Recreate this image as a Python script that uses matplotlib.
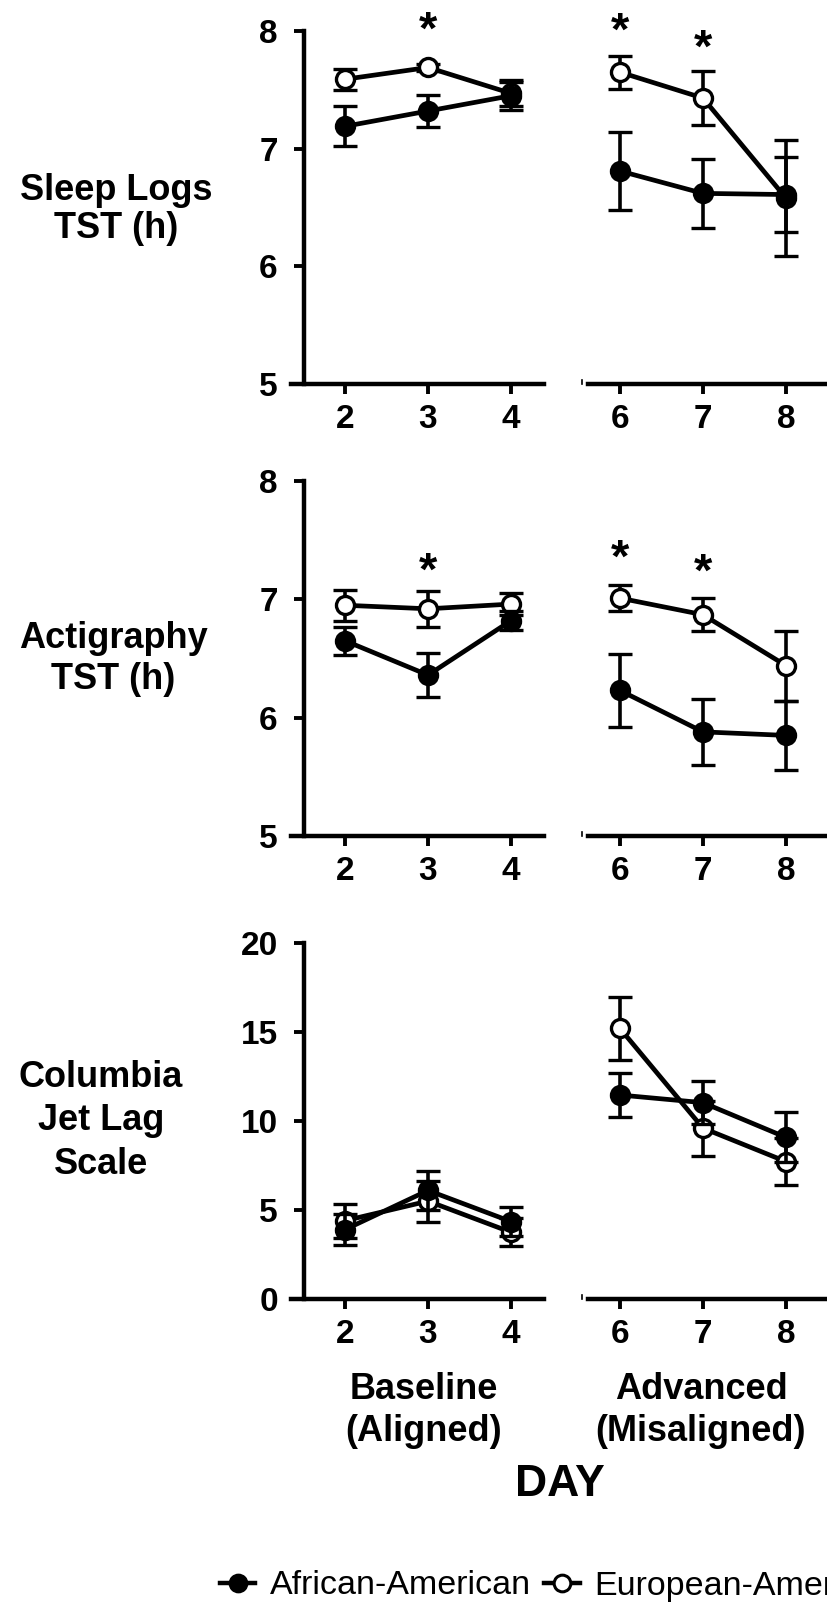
import matplotlib
matplotlib.use('Agg')
import matplotlib.pyplot as plt
from matplotlib.lines import Line2D
from matplotlib.transforms import offset_copy

plt.rcParams['font.family'] = ['Liberation Sans', 'DejaVu Sans']

# ---------------- data ----------------
days_base = [2, 3, 4]
days_adv = [6, 7, 8]

# Sleep logs TST (h)
sl_aa_base = [7.19, 7.32, 7.45]
sl_aa_base_err = [0.17, 0.135, 0.12]
sl_ea_base = [7.59, 7.69, 7.47]
sl_ea_base_err = [0.09, 0.03, 0.11]
sl_aa_adv = [6.81, 6.62, 6.61]
sl_aa_adv_err = [0.335, 0.29, 0.32]
sl_ea_adv = [7.65, 7.43, 6.58]
sl_ea_adv_err = [0.14, 0.23, 0.49]

# Actigraphy TST (h)
ac_aa_base = [6.65, 6.36, 6.82]
ac_aa_base_err = [0.12, 0.185, 0.08]
ac_ea_base = [6.95, 6.92, 6.96]
ac_ea_base_err = [0.13, 0.15, 0.09]
ac_aa_adv = [6.23, 5.88, 5.85]
ac_aa_adv_err = [0.31, 0.28, 0.29]
ac_ea_adv = [7.01, 6.87, 6.44]
ac_ea_adv_err = [0.11, 0.14, 0.295]

# Columbia Jet Lag Scale
cj_aa_base = [3.9, 6.1, 4.35]
cj_aa_base_err = [0.85, 1.1, 0.8]
cj_ea_base = [4.4, 5.5, 3.75]
cj_ea_base_err = [0.95, 1.15, 0.8]
cj_aa_adv = [11.46, 11.03, 9.08]
cj_aa_adv_err = [1.25, 1.2, 1.4]
cj_ea_adv = [15.2, 9.6, 7.72]
cj_ea_adv_err = [1.75, 1.55, 1.3]

# significance asterisks: (day, y of glyph centre)
sl_stars_base = [(3, 8.12)]
sl_stars_adv = [(6, 8.11), (7, 7.96)]
ac_stars_base = [(3, 7.35)]
ac_stars_adv = [(6, 7.46), (7, 7.34)]

row_labels = [["Sleep Logs", "TST (h)"],
              ["Actigraphy", "TST (h)"],
              ["Columbia", "Jet Lag", "Scale"]]
group_labels = [["Baseline", "(Aligned)"], ["Advanced", "(Misaligned)"]]
legend_labels = ["African-American", "European-American"]
x_label = "DAY"

# ---------------- layout ----------------
W, H = 828, 1604
fig = plt.figure(figsize=(W / 100, H / 100), dpi=100)


def rect(x0, x1, ytop, ybot):
    return [x0 / W, 1 - ybot / H, (x1 - x0) / W, (ybot - ytop) / H]


def fx(px):
    return px / W


def fy(py):
    return 1 - py / H


rows = [
    dict(top=31, bot=384, ylim=(5, 8), yticks=[5, 6, 7, 8],
         base=(sl_aa_base, sl_aa_base_err, sl_ea_base, sl_ea_base_err),
         adv=(sl_aa_adv, sl_aa_adv_err, sl_ea_adv, sl_ea_adv_err),
         stars=(sl_stars_base, sl_stars_adv),
         lab_x=116, lab_base=[200, 238]),
    dict(top=481, bot=836, ylim=(5, 8), yticks=[5, 6, 7, 8],
         base=(ac_aa_base, ac_aa_base_err, ac_ea_base, ac_ea_base_err),
         adv=(ac_aa_adv, ac_aa_adv_err, ac_ea_adv, ac_ea_adv_err),
         stars=(ac_stars_base, ac_stars_adv),
         lab_x=113, lab_base=[648, 689]),
    dict(top=943, bot=1299, ylim=(0, 20), yticks=[0, 5, 10, 15, 20],
         base=(cj_aa_base, cj_aa_base_err, cj_ea_base, cj_ea_base_err),
         adv=(cj_aa_adv, cj_aa_adv_err, cj_ea_adv, cj_ea_adv_err),
         stars=([], []),
         lab_x=101, lab_base=[1087, 1130, 1174]),
]

LW_AX = 3.2
style_common = dict(color='k', ms=13, mew=2.4, lw=3.4, elinewidth=2.6,
                    capsize=8.5, capthick=2.6, clip_on=False)


def draw(ax, days, data, stars):
    aa, aa_e, ea, ea_e = data
    ax.errorbar(days, ea, yerr=ea_e, fmt='-o', mfc='white', mec='k', zorder=3,
                **style_common)
    ax.errorbar(days, aa, yerr=aa_e, fmt='-o', mfc='k', mec='k', zorder=4,
                **style_common)
    for d, y in stars:
        ax.annotate('*', xy=(d, y), xytext=(0, -19), textcoords='offset points',
                    ha='center', va='baseline', fontsize=34, fontweight='bold',
                    annotation_clip=False)


for i, r in enumerate(rows):
    axl = fig.add_axes(rect(291.4, 543.9, r['top'], r['bot']))
    axr = fig.add_axes(rect(587.6, 828, r['top'], r['bot']))
    for ax in (axl, axr):
        ax.set_ylim(*r['ylim'])
        ax.patch.set_visible(False)
        for s in ('top', 'right'):
            ax.spines[s].set_visible(False)
        ax.spines['bottom'].set_linewidth(LW_AX)
        ax.spines['left'].set_linewidth(LW_AX)
        ax.tick_params(axis='both', direction='out', length=7.5, width=2.8,
                       labelsize=24, pad=7)
    axl.set_xlim(1.354, 4.396)
    axr.set_xlim(5.61, 8.506)
    axl.set_xticks(days_base)
    axr.set_xticks(days_adv)
    axl.set_yticks(r['yticks'])
    axl.spines['left'].set_position(('data', 1.5))
    axr.spines['left'].set_visible(False)
    axr.set_yticks([])
    axl.set_xticklabels([str(d) for d in days_base], fontweight='bold')
    axr.set_xticklabels([str(d) for d in days_adv], fontweight='bold')
    axl.set_yticklabels([str(v) for v in r['yticks']], fontweight='bold')
    axl.tick_params(axis='y', pad=11)

    draw(axl, days_base, r['base'], r['stars'][0])
    draw(axr, days_adv, r['adv'], r['stars'][1])

    # tiny break mark in front of the second segment
    tr = offset_copy(axr.transAxes, fig=fig, x=-6, y=0, units='dots')
    axr.add_line(Line2D([0, 0], [0, 0.012], transform=tr, color='k', lw=1.2,
                        clip_on=False))

    for line, yb in zip(row_labels[i], r['lab_base']):
        fig.text(fx(r['lab_x']), fy(yb), line, ha='center', va='baseline',
                 fontsize=26, fontweight='bold')

for (l1, l2), xc in zip(group_labels, [424, 701]):
    fig.text(fx(xc), fy(1399), l1, ha='center', va='baseline',
             fontsize=26, fontweight='bold')
    fig.text(fx(xc), fy(1441), l2, ha='center', va='baseline',
             fontsize=26, fontweight='bold')

fig.text(fx(560), fy(1484), x_label, ha='center', va='center',
         fontsize=32, fontweight='bold')

handles = [
    Line2D([], [], color='k', lw=3.2, marker='o', ms=12, mfc='k', mec='k', mew=2.2),
    Line2D([], [], color='k', lw=3.2, marker='o', ms=12, mfc='white', mec='k', mew=2.2),
]
fig.legend(handles, legend_labels, loc='center left',
           bbox_to_anchor=(fx(220), fy(1586)), ncol=2, frameon=False,
           fontsize=24.5, handlelength=1.04, handletextpad=0.42,
           columnspacing=0.4, borderpad=0, borderaxespad=0)

fig.savefig('out.png', dpi=100, facecolor='white')
